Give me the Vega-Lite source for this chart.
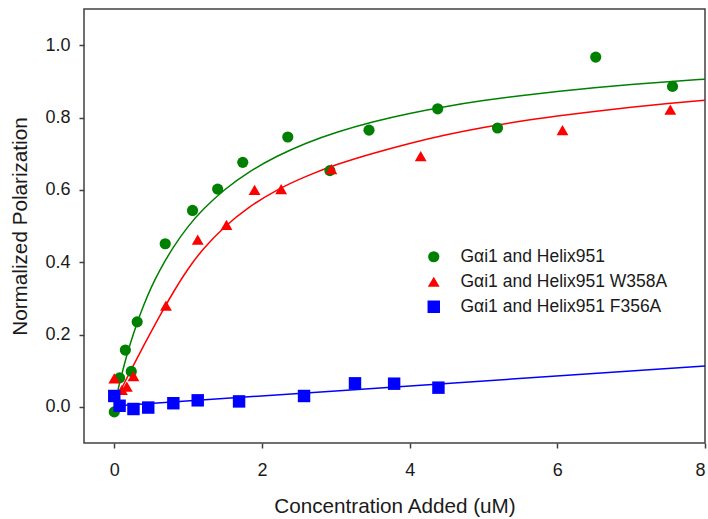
{
  "$schema": "https://vega.github.io/schema/vega-lite/v6.json",
  "autosize": {"type": "none"},
  "padding": {"left": 84, "top": 9, "right": 3, "bottom": 76},
  "width": 621,
  "height": 434,
  "config": {
    "font": "Liberation Sans",
    "view": {"stroke": "#404040", "strokeWidth": 1.5},
    "axis": {
      "grid": false,
      "domain": false,
      "tickColor": "#404040",
      "tickWidth": 1.5,
      "tickSize": 5,
      "labelFont": "Liberation Sans",
      "labelFontSize": 18,
      "labelColor": "#1a1a1a",
      "titleFont": "Liberation Sans",
      "titleFontSize": 20.7,
      "titleFontWeight": "normal",
      "titleColor": "#1a1a1a"
    },
    "legend": {
      "labelFont": "Liberation Sans",
      "labelFontSize": 17.5,
      "labelColor": "#1a1a1a",
      "labelLimit": 0,
      "padding": 0,
      "rowPadding": 6,
      "symbolSize": 130,
      "symbolStrokeWidth": 0,
      "labelOffset": 18
    }
  },
  "data": {
    "values": [
      {"series": "Gαi1 and Helix951", "kind": "point", "x": 0.0, "y": -0.014},
      {"series": "Gαi1 and Helix951", "kind": "point", "x": 0.072, "y": 0.080},
      {"series": "Gαi1 and Helix951", "kind": "point", "x": 0.15, "y": 0.157},
      {"series": "Gαi1 and Helix951", "kind": "point", "x": 0.23, "y": 0.098},
      {"series": "Gαi1 and Helix951", "kind": "point", "x": 0.31, "y": 0.235},
      {"series": "Gαi1 and Helix951", "kind": "point", "x": 0.69, "y": 0.451},
      {"series": "Gαi1 and Helix951", "kind": "point", "x": 1.06, "y": 0.543},
      {"series": "Gαi1 and Helix951", "kind": "point", "x": 1.40, "y": 0.602},
      {"series": "Gαi1 and Helix951", "kind": "point", "x": 1.74, "y": 0.676},
      {"series": "Gαi1 and Helix951", "kind": "point", "x": 2.35, "y": 0.746},
      {"series": "Gαi1 and Helix951", "kind": "point", "x": 2.92, "y": 0.653},
      {"series": "Gαi1 and Helix951", "kind": "point", "x": 3.45, "y": 0.765},
      {"series": "Gαi1 and Helix951", "kind": "point", "x": 4.38, "y": 0.824},
      {"series": "Gαi1 and Helix951", "kind": "point", "x": 5.19, "y": 0.771},
      {"series": "Gαi1 and Helix951", "kind": "point", "x": 6.52, "y": 0.967},
      {"series": "Gαi1 and Helix951", "kind": "point", "x": 7.56, "y": 0.886},

      {"series": "Gαi1 and Helix951 W358A", "kind": "point", "x": 0.0, "y": 0.079},
      {"series": "Gαi1 and Helix951 W358A", "kind": "point", "x": 0.104, "y": 0.047},
      {"series": "Gαi1 and Helix951 W358A", "kind": "point", "x": 0.17, "y": 0.056},
      {"series": "Gαi1 and Helix951 W358A", "kind": "point", "x": 0.26, "y": 0.085},
      {"series": "Gαi1 and Helix951 W358A", "kind": "point", "x": 0.70, "y": 0.280},
      {"series": "Gαi1 and Helix951 W358A", "kind": "point", "x": 1.13, "y": 0.462},
      {"series": "Gαi1 and Helix951 W358A", "kind": "point", "x": 1.52, "y": 0.503},
      {"series": "Gαi1 and Helix951 W358A", "kind": "point", "x": 1.90, "y": 0.600},
      {"series": "Gαi1 and Helix951 W358A", "kind": "point", "x": 2.26, "y": 0.602},
      {"series": "Gαi1 and Helix951 W358A", "kind": "point", "x": 2.94, "y": 0.657},
      {"series": "Gαi1 and Helix951 W358A", "kind": "point", "x": 4.15, "y": 0.693},
      {"series": "Gαi1 and Helix951 W358A", "kind": "point", "x": 6.07, "y": 0.765},
      {"series": "Gαi1 and Helix951 W358A", "kind": "point", "x": 7.53, "y": 0.822},

      {"series": "Gαi1 and Helix951 F356A", "kind": "point", "x": 0.0, "y": 0.030},
      {"series": "Gαi1 and Helix951 F356A", "kind": "point", "x": 0.072, "y": 0.003},
      {"series": "Gαi1 and Helix951 F356A", "kind": "point", "x": 0.26, "y": -0.006},
      {"series": "Gαi1 and Helix951 F356A", "kind": "point", "x": 0.46, "y": -0.002},
      {"series": "Gαi1 and Helix951 F356A", "kind": "point", "x": 0.80, "y": 0.010},
      {"series": "Gαi1 and Helix951 F356A", "kind": "point", "x": 1.13, "y": 0.018},
      {"series": "Gαi1 and Helix951 F356A", "kind": "point", "x": 1.69, "y": 0.015},
      {"series": "Gαi1 and Helix951 F356A", "kind": "point", "x": 2.57, "y": 0.030},
      {"series": "Gαi1 and Helix951 F356A", "kind": "point", "x": 3.26, "y": 0.065},
      {"series": "Gαi1 and Helix951 F356A", "kind": "point", "x": 3.79, "y": 0.064},
      {"series": "Gαi1 and Helix951 F356A", "kind": "point", "x": 4.39, "y": 0.053},

      {"series": "Gαi1 and Helix951", "kind": "fit", "x": 0.05, "y": 0.0466},
      {"series": "Gαi1 and Helix951", "kind": "fit", "x": 0.1, "y": 0.0891},
      {"series": "Gαi1 and Helix951", "kind": "fit", "x": 0.15, "y": 0.1281},
      {"series": "Gαi1 and Helix951", "kind": "fit", "x": 0.2, "y": 0.164},
      {"series": "Gαi1 and Helix951", "kind": "fit", "x": 0.3, "y": 0.2278},
      {"series": "Gαi1 and Helix951", "kind": "fit", "x": 0.4, "y": 0.2828},
      {"series": "Gαi1 and Helix951", "kind": "fit", "x": 0.5, "y": 0.3306},
      {"series": "Gαi1 and Helix951", "kind": "fit", "x": 0.6, "y": 0.3727},
      {"series": "Gαi1 and Helix951", "kind": "fit", "x": 0.8, "y": 0.4432},
      {"series": "Gαi1 and Helix951", "kind": "fit", "x": 1.0, "y": 0.5},
      {"series": "Gαi1 and Helix951", "kind": "fit", "x": 1.2, "y": 0.5467},
      {"series": "Gαi1 and Helix951", "kind": "fit", "x": 1.5, "y": 0.6029},
      {"series": "Gαi1 and Helix951", "kind": "fit", "x": 1.8, "y": 0.6474},
      {"series": "Gαi1 and Helix951", "kind": "fit", "x": 2.2, "y": 0.6938},
      {"series": "Gαi1 and Helix951", "kind": "fit", "x": 2.6, "y": 0.7301},
      {"series": "Gαi1 and Helix951", "kind": "fit", "x": 3.0, "y": 0.7593},
      {"series": "Gαi1 and Helix951", "kind": "fit", "x": 3.5, "y": 0.7885},
      {"series": "Gαi1 and Helix951", "kind": "fit", "x": 4.0, "y": 0.8119},
      {"series": "Gαi1 and Helix951", "kind": "fit", "x": 4.5, "y": 0.8311},
      {"series": "Gαi1 and Helix951", "kind": "fit", "x": 5.0, "y": 0.8471},
      {"series": "Gαi1 and Helix951", "kind": "fit", "x": 5.5, "y": 0.8607},
      {"series": "Gαi1 and Helix951", "kind": "fit", "x": 6.0, "y": 0.8723},
      {"series": "Gαi1 and Helix951", "kind": "fit", "x": 6.5, "y": 0.8825},
      {"series": "Gαi1 and Helix951", "kind": "fit", "x": 7.0, "y": 0.8913},
      {"series": "Gαi1 and Helix951", "kind": "fit", "x": 7.5, "y": 0.8991},
      {"series": "Gαi1 and Helix951", "kind": "fit", "x": 8.0, "y": 0.9061},

      {"series": "Gαi1 and Helix951 W358A", "kind": "fit", "x": 0.06, "y": 0.035},
      {"series": "Gαi1 and Helix951 W358A", "kind": "fit", "x": 0.2, "y": 0.092},
      {"series": "Gαi1 and Helix951 W358A", "kind": "fit", "x": 0.4, "y": 0.170},
      {"series": "Gαi1 and Helix951 W358A", "kind": "fit", "x": 0.6, "y": 0.246},
      {"series": "Gαi1 and Helix951 W358A", "kind": "fit", "x": 0.8, "y": 0.318},
      {"series": "Gαi1 and Helix951 W358A", "kind": "fit", "x": 1.0, "y": 0.383},
      {"series": "Gαi1 and Helix951 W358A", "kind": "fit", "x": 1.2, "y": 0.437},
      {"series": "Gαi1 and Helix951 W358A", "kind": "fit", "x": 1.5, "y": 0.500},
      {"series": "Gαi1 and Helix951 W358A", "kind": "fit", "x": 1.8, "y": 0.550},
      {"series": "Gαi1 and Helix951 W358A", "kind": "fit", "x": 2.2, "y": 0.601},
      {"series": "Gαi1 and Helix951 W358A", "kind": "fit", "x": 2.6, "y": 0.638},
      {"series": "Gαi1 and Helix951 W358A", "kind": "fit", "x": 3.0, "y": 0.670},
      {"series": "Gαi1 and Helix951 W358A", "kind": "fit", "x": 3.5, "y": 0.701},
      {"series": "Gαi1 and Helix951 W358A", "kind": "fit", "x": 4.0, "y": 0.729},
      {"series": "Gαi1 and Helix951 W358A", "kind": "fit", "x": 4.5, "y": 0.753},
      {"series": "Gαi1 and Helix951 W358A", "kind": "fit", "x": 5.0, "y": 0.773},
      {"series": "Gαi1 and Helix951 W358A", "kind": "fit", "x": 5.5, "y": 0.790},
      {"series": "Gαi1 and Helix951 W358A", "kind": "fit", "x": 6.0, "y": 0.804},
      {"series": "Gαi1 and Helix951 W358A", "kind": "fit", "x": 6.5, "y": 0.817},
      {"series": "Gαi1 and Helix951 W358A", "kind": "fit", "x": 7.0, "y": 0.829},
      {"series": "Gαi1 and Helix951 W358A", "kind": "fit", "x": 7.5, "y": 0.839},
      {"series": "Gαi1 and Helix951 W358A", "kind": "fit", "x": 8.0, "y": 0.848},

      {"series": "Gαi1 and Helix951 F356A", "kind": "fit", "x": 0.04, "y": 0.003},
      {"series": "Gαi1 and Helix951 F356A", "kind": "fit", "x": 8.0, "y": 0.113}
    ]
  },
  "encoding": {
    "x": {
      "field": "x",
      "type": "quantitative",
      "scale": {"domain": [-0.41, 8], "nice": false, "zero": false},
      "axis": {"values": [0, 2, 4, 6, 8], "format": "d", "labelPadding": 13, "titlePadding": 17, "title": "Concentration Added (uM)"}
    },
    "y": {
      "field": "y",
      "type": "quantitative",
      "scale": {"domain": [-0.1, 1.1], "nice": false, "zero": false},
      "axis": {"values": [0, 0.2, 0.4, 0.6, 0.8, 1.0], "format": ".1f", "labelPadding": 9, "titlePadding": 14, "title": "Normalized Polarization"}
    },
    "color": {
      "field": "series",
      "type": "nominal",
      "scale": {
        "domain": ["Gαi1 and Helix951", "Gαi1 and Helix951 W358A", "Gαi1 and Helix951 F356A"],
        "range": ["#008000", "#ff0000", "#0000ff"]
      },
      "legend": {"title": null, "orient": "none", "legendX": 341, "legendY": 239}
    }
  },
  "layer": [
    {
      "transform": [{"filter": "datum.kind === 'fit'"}],
      "mark": {"type": "line", "strokeWidth": 1.5, "interpolate": "basis"},
      "encoding": {"detail": {"field": "series"}}
    },
    {
      "transform": [{"filter": "datum.kind === 'point'"}],
      "mark": {"type": "point", "filled": true, "opacity": 1},
      "encoding": {
        "shape": {
          "field": "series",
          "type": "nominal",
          "scale": {
            "domain": ["Gαi1 and Helix951", "Gαi1 and Helix951 W358A", "Gαi1 and Helix951 F356A"],
            "range": ["circle", "triangle-up", "square"]
          },
          "legend": {"title": null, "orient": "none", "legendX": 341, "legendY": 239}
        },
        "size": {
          "field": "series",
          "type": "nominal",
          "scale": {
            "domain": ["Gαi1 and Helix951", "Gαi1 and Helix951 W358A", "Gαi1 and Helix951 F356A"],
            "range": [125, 155, 120]
          },
          "legend": null
        }
      }
    }
  ]
}
